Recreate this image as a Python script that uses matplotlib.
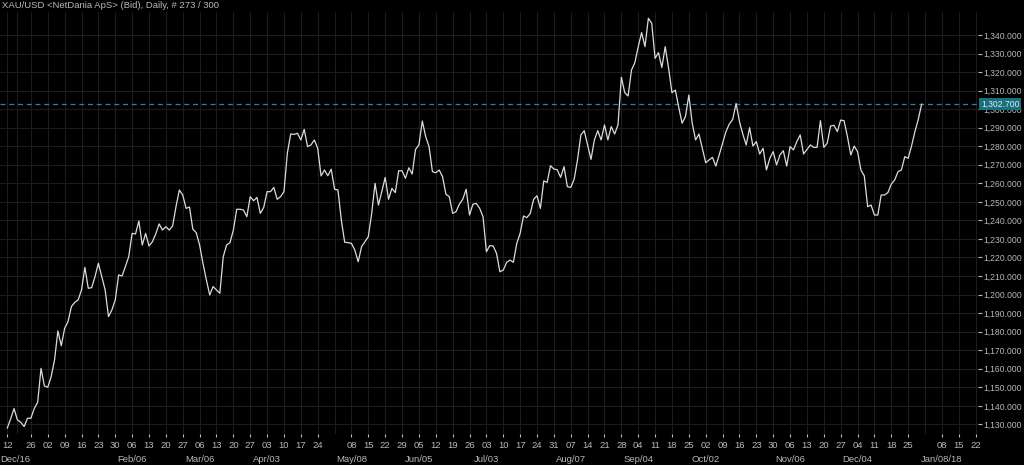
"""XAU/USD daily bid chart, NetDania style: dark background, weekly grid, right price axis."""
import matplotlib
matplotlib.use("Agg")
import matplotlib.pyplot as plt
from matplotlib.transforms import blended_transform_factory

# daily closes (bid), one per trading bar, Dec/16 .. Jan/18
price = [
    1128.0, 1133.0, 1138.5, 1132.4, 1131.1, 1128.8, 1133.3, 1133.3, 1138.6, 1141.9,
    1160.2, 1150.7, 1150.0, 1155.7, 1164.7, 1180.4, 1172.4, 1181.8, 1185.4, 1193.5,
    1195.8, 1197.1, 1202.5, 1214.7, 1203.4, 1203.7, 1209.7, 1216.9, 1209.7, 1202.5,
    1188.1, 1191.7, 1197.1, 1210.6, 1210.0, 1215.1, 1220.5, 1233.0, 1232.7, 1239.7,
    1226.7, 1233.0, 1226.2, 1228.5, 1232.7, 1238.1, 1234.8, 1236.6, 1234.8, 1237.0,
    1247.4, 1256.4, 1253.7, 1246.5, 1247.2, 1235.2, 1233.4, 1226.7, 1216.8, 1207.9,
    1199.8, 1204.3, 1202.5, 1200.7, 1220.4, 1226.7, 1228.0, 1234.8, 1246.0, 1246.0,
    1245.6, 1242.0, 1252.8, 1250.6, 1252.4, 1243.8, 1247.0, 1255.5, 1255.5, 1257.8,
    1251.4, 1252.8, 1255.5, 1276.2, 1286.6, 1286.4, 1287.0, 1283.4, 1289.1, 1279.8,
    1280.7, 1283.4, 1278.9, 1264.0, 1267.2, 1264.1, 1267.6, 1256.8, 1256.4, 1240.2,
    1228.2, 1228.0, 1227.6, 1224.0, 1217.7, 1225.8, 1228.5, 1231.2, 1243.8, 1260.0,
    1248.3, 1255.5, 1263.2, 1251.4, 1257.3, 1255.0, 1266.8, 1266.8, 1262.7, 1268.4,
    1265.0, 1278.3, 1280.7, 1293.6, 1285.2, 1279.8, 1266.3, 1265.7, 1267.2, 1263.6,
    1254.1, 1252.8, 1243.8, 1244.7, 1248.8, 1251.4, 1256.8, 1242.9, 1248.7, 1249.2,
    1246.5, 1242.0, 1223.1, 1226.4, 1226.2, 1222.2, 1212.3, 1213.2, 1217.4, 1218.6,
    1217.4, 1227.6, 1233.0, 1242.4, 1241.5, 1243.8, 1251.4, 1253.3, 1246.5, 1261.3,
    1260.5, 1269.5, 1267.7, 1267.3, 1263.2, 1269.0, 1258.2, 1257.8, 1262.1, 1272.6,
    1286.1, 1288.4, 1280.7, 1272.9, 1283.4, 1288.4, 1283.4, 1291.5, 1283.4, 1290.6,
    1286.6, 1291.5, 1317.2, 1308.9, 1307.1, 1321.1, 1325.1, 1333.7, 1341.3, 1333.7,
    1349.0, 1346.3, 1327.4, 1330.5, 1322.5, 1333.7, 1322.0, 1308.9, 1310.3, 1301.0,
    1292.4, 1296.0, 1307.6, 1292.4, 1283.4, 1286.6, 1278.9, 1271.1, 1272.6, 1274.0,
    1269.3, 1275.3, 1281.6, 1287.9, 1292.0, 1294.5, 1303.1, 1293.3, 1286.5, 1280.7,
    1290.0, 1280.1, 1282.5, 1275.8, 1278.9, 1267.2, 1273.5, 1277.1, 1269.9, 1275.3,
    1277.6, 1269.3, 1279.8, 1278.0, 1282.5, 1286.1, 1275.8, 1278.3, 1280.7, 1279.4,
    1279.4, 1293.8, 1279.4, 1281.6, 1290.9, 1291.3, 1287.9, 1294.1, 1293.8, 1285.2,
    1275.3, 1280.1, 1277.1, 1267.2, 1264.0, 1247.4, 1248.3, 1242.9, 1242.9, 1253.7,
    1253.7, 1255.0, 1259.6, 1261.8, 1266.3, 1267.2, 1274.4, 1273.5, 1280.1, 1287.9,
    1294.5, 1302.7,
]
last_price = 1302.7

# weekly ticks (bar index) and their day labels
week_bars = [0, 7, 12, 17, 22, 27, 32, 37, 42, 47, 52, 57, 62, 67, 72, 77, 82, 87, 92,
             102, 107, 112, 117, 122, 127, 132, 137, 142, 147, 152, 157, 162, 167, 172,
             177, 182, 187, 192, 197, 202, 207, 212, 217, 222, 227, 232, 237, 242, 247,
             252, 257, 262, 267, 277, 282, 287]
week_days = ["12", "26", "02", "09", "16", "23", "30", "06", "13", "20", "27", "06", "13",
             "20", "27", "03", "10", "17", "24", "08", "15", "22", "29", "05", "12", "19",
             "26", "03", "10", "17", "24", "31", "07", "14", "21", "28", "04", "11", "18",
             "25", "02", "09", "16", "23", "30", "06", "13", "20", "27", "04", "11", "18",
             "25", "08", "15", "22"]
unlabeled_weeks = [2.8, 97, 272]

month_bars = [37, 57, 77, 102, 122, 142, 167, 187, 207, 232, 252, 277]
month_labels = ["Feb/06", "Mar/06", "Apr/03", "May/08", "Jun/05", "Jul/03", "Aug/07",
                "Sep/04", "Oct/02", "Nov/06", "Dec/04", "Jan/08/18"]

price_ticks = list(range(1130, 1341, 10))

BG = "#000000"
GRID = "#1c1c1c"
TXT = "#b8b8b8"
TEAL = "#23899a"

plt.rcParams["font.family"] = ["Liberation Sans", "DejaVu Sans"]
plt.rcParams["font.size"] = 7

fig = plt.figure(figsize=(10.24, 4.65), dpi=100, facecolor=BG)
ax = fig.add_axes([0.0, 31 / 465, 978 / 1024, 422 / 465], facecolor=BG)

ax.plot(range(len(price)), price, color="#dcdcdc", lw=0.9, zorder=3)
ax.axhline(last_price, color=TEAL, lw=0.9, ls=(0, (4, 3)), zorder=2)

ax.set_xlim(-2.16, 287.7)
ax.set_ylim(1124.8, 1352.4)

for spine in ax.spines.values():
    spine.set_visible(False)

ax.yaxis.tick_right()
ax.set_yticks(price_ticks)
ax.set_yticklabels([f"{v:,.3f}" for v in price_ticks])
ax.set_xticks(week_bars)
ax.set_xticklabels(week_days)
ax.tick_params(axis="y", colors=TXT, length=3, width=0.8, pad=1, labelsize=6.2)
ax.tick_params(axis="x", colors=TXT, length=2, width=0.8, pad=3, labelsize=6.8)

for y in price_ticks:
    ax.axhline(y, color=GRID, lw=0.8, zorder=1)
for x in week_bars + unlabeled_weeks:
    ax.axvline(x, color=GRID, lw=0.8, zorder=1)

trans = blended_transform_factory(ax.transData, ax.transAxes)
ax.text(-2.16, -0.05, "Dec/16", transform=trans, ha="left", va="top",
        color=TXT, fontsize=6.8)
for xb, lab in zip(month_bars, month_labels):
    ax.text(xb, -0.05, lab, transform=trans, ha="center", va="top",
            color=TXT, fontsize=6.8, clip_on=False)

# last-price marker on the price axis
ax.text(1.003, last_price, f"{last_price:,.3f}",
        transform=blended_transform_factory(ax.transAxes, ax.transData),
        ha="left", va="center", color="#e8e8e8", fontsize=6.2, zorder=10, clip_on=False,
        bbox=dict(boxstyle="square,pad=0.2", fc="#17707f", ec="none"))

fig.text(2 / 1024, 1 - 6 / 465, "XAU/USD <NetDania ApS> (Bid), Daily, # 273 / 300",
         ha="left", va="center", color=TXT, fontsize=6.8)

fig.savefig("out.png", dpi=100, facecolor=BG)
